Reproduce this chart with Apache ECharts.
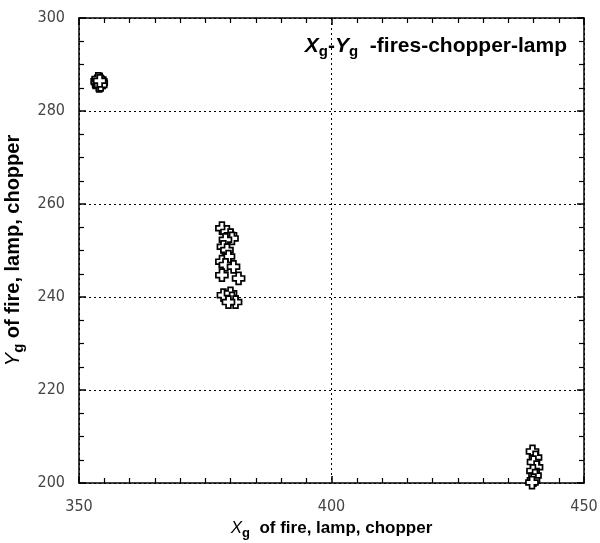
<!DOCTYPE html>
<html><head><meta charset="utf-8">
<script src="https://cdn.jsdelivr.net/npm/echarts@6/dist/echarts.min.js"></script>
<style>html,body{margin:0;padding:0;background:#fff}#c{width:600px;height:543px}</style>
</head><body><div id="c"></div>
<script>
// Cluster: fire
var fireX = [354.0, 353.8, 354.2, 354.3, 353.9, 354.1, 353.7, 354.2, 353.6, 354.4, 354.0, 353.8, 354.3, 354.1];
var fireY = [286.1, 286.5, 285.8, 286.4, 285.6, 286.8, 286.2, 286.0, 286.4, 286.1, 285.4, 286.9, 285.6, 286.5];
// Cluster: lamp
var lampX = [378.3, 379.3, 380.0, 380.3, 379.0, 378.6, 379.3, 379.6, 378.3, 379.0, 380.6, 378.3, 381.6, 378.6, 380.0, 380.3, 381.0, 379.6];
var lampY = [254.8, 254.0, 253.3, 252.6, 252.3, 250.8, 250.1, 248.7, 247.6, 246.9, 246.5, 244.7, 244.0, 240.4, 240.8, 239.7, 238.9, 238.9];
// Cluster: chopper
var chopX = [439.8, 440.4, 440.0, 440.6, 439.9, 440.3, 440.0, 439.7];
var chopY = [206.8, 205.5, 204.5, 203.4, 202.6, 201.6, 200.6, 200.1];
// Axes
var xMin = 350, xMax = 450, xStep = 50;
var yMin = 200, yMax = 300, yStep = 20;

function pts(xs, ys){ return xs.map(function(x,i){ return [x, ys[i]]; }); }
var data = pts(fireX, fireY).concat(pts(lampX, lampY)).concat(pts(chopX, chopY));

var chart = echarts.init(document.getElementById('c'));
var labelFont = {fontFamily: "'Liberation Sans Narrow','DejaVu Sans Condensed',sans-serif", fontSize: 16, color: '#444'};
function rich(sz, subSz, pad){
  return {
    it: {fontFamily: "'Liberation Sans',Arial,sans-serif", fontStyle: 'italic', fontSize: sz, color: '#000'},
    sub: {fontFamily: "'Liberation Sans',Arial,sans-serif", fontWeight: 'bold', fontSize: subSz, color: '#000', padding: [pad,0,0,0]},
    b: {fontFamily: "'Liberation Sans',Arial,sans-serif", fontWeight: 'bold', fontSize: sz, color: '#000'}
  };
}
var axLine = {show: true, lineStyle: {color: '#000', width: 1.5}};
var split = {show: true, lineStyle: {color: '#000', type: [2,3], width: 1}};
var majT = {show: true, inside: true, length: 7, lineStyle: {color: '#000', width: 1.5}};
chart.setOption({
  animation: false,
  backgroundColor: '#fff',
  title: {
    text: '{it|X}{sub|g}{b|-}{it|Y}{sub|g}{b|  -fires-chopper-lamp}',
    right: 28, top: 29,
    textStyle: {rich: rich(21, 15, 10)}
  },
  grid: {left: 79, right: 16, top: 18, bottom: 60, outerBoundsMode: 'none', containLabel: false},
  xAxis: [{
    type: 'value', min: xMin, max: xMax, interval: xStep, position: 'bottom',
    axisLine: axLine, axisTick: majT,
    minorTick: {show: true, splitNumber: 10, length: 5, lineStyle: {color: '#000', width: 1.2}},
    splitLine: split,
    axisLabel: Object.assign({margin: 16}, labelFont),
    name: '{it|X}{sub|g}{b|  of fire, lamp, chopper}',
    nameLocation: 'middle', nameGap: 30,
    nameTextStyle: {rich: rich(17, 13, 10)}
  }, {
    type: 'value', min: xMin, max: xMax, interval: xStep, position: 'top',
    axisLine: axLine, axisTick: majT,
    minorTick: {show: true, splitNumber: 10, length: 5, lineStyle: {color: '#000', width: 1.2}},
    splitLine: {show: false}, axisLabel: {show: false}
  }],
  yAxis: [{
    type: 'value', min: yMin, max: yMax, interval: yStep, position: 'left',
    axisLine: axLine, axisTick: majT,
    minorTick: {show: true, splitNumber: 4, length: 5, lineStyle: {color: '#000', width: 1.2}},
    splitLine: split,
    axisLabel: Object.assign({margin: 14}, labelFont),
    name: '{it|Y}{sub|g}{b| of fire, lamp, chopper}',
    nameLocation: 'middle', nameGap: 46, nameRotate: 90,
    nameTextStyle: {rich: rich(20, 15, 11)}
  }, {
    type: 'value', min: yMin, max: yMax, interval: yStep, position: 'right',
    axisLine: axLine, axisTick: majT,
    minorTick: {show: true, splitNumber: 4, length: 5, lineStyle: {color: '#000', width: 1.2}},
    splitLine: {show: false}, axisLabel: {show: false}
  }],
  series: [{
    type: 'scatter',
    data: data,
    symbol: 'path://M3,0 H7 V3 H10 V7 H7 V10 H3 V7 H0 V3 H3 Z',
    symbolSize: 12,
    itemStyle: {color: '#fff', borderColor: '#000', borderWidth: 1.7, opacity: 1}
  }]
});
</script></body></html>
